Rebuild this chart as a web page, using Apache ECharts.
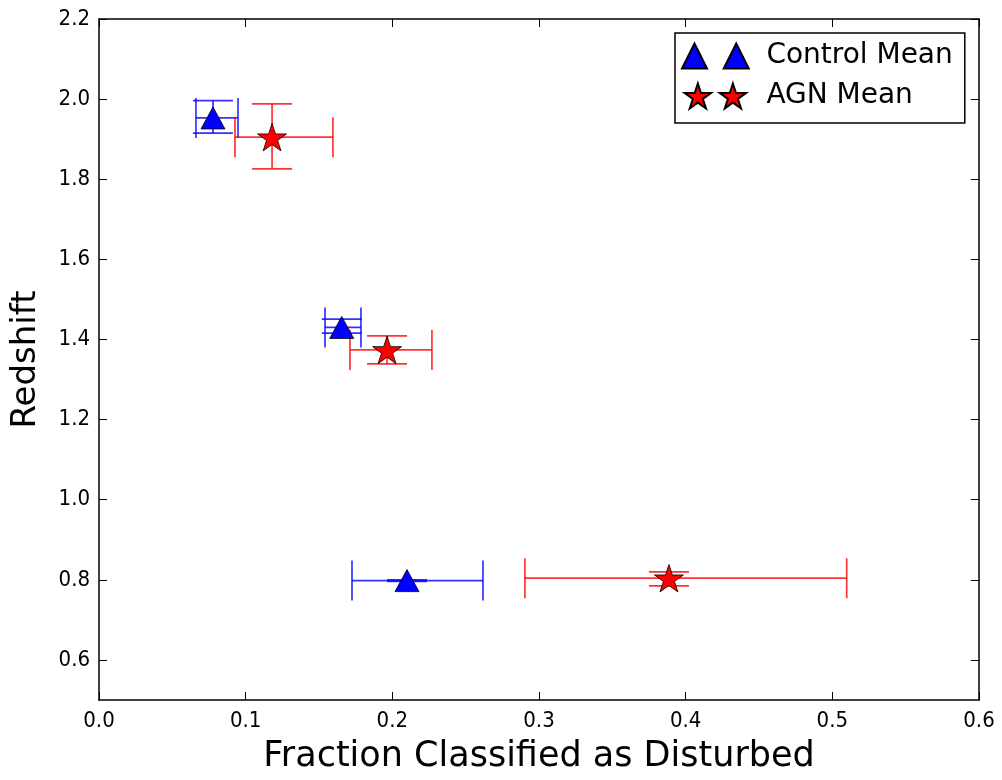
<!DOCTYPE html>
<html>
<head>
<meta charset="utf-8">
<script src="https://cdn.jsdelivr.net/npm/echarts@6/dist/echarts.min.js"></script>
<style>
html,body{margin:0;padding:0;background:#fff;}
#chart{width:1002px;height:780px;}
</style>
</head>
<body>
<div id="chart"></div>
<script>
// ---- data ----
const controlX   = [0.0777, 0.1655, 0.2100];
const controlY   = [1.953, 1.430, 0.798];
const controlXLo = [0.0661, 0.1541, 0.1725];
const controlXHi = [0.0948, 0.1786, 0.2618];
const controlYLo = [1.915, 1.416, 0.796];
const controlYHi = [1.996, 1.451, 0.800];

const agnX   = [0.1180, 0.1964, 0.3886];
const agnY   = [1.905, 1.374, 0.804];
const agnXLo = [0.0927, 0.1711, 0.2904];
const agnXHi = [0.1595, 0.2270, 0.5098];
const agnYLo = [1.826, 1.339, 0.785];
const agnYHi = [1.988, 1.409, 0.820];

const xTicks = [0.0, 0.1, 0.2, 0.3, 0.4, 0.5, 0.6];
const yTicks = [0.6, 0.8, 1.0, 1.2, 1.4, 1.6, 1.8, 2.0, 2.2];

const seriesNames = ['Control Mean', 'AGN Mean'];
const xTitle = 'Fraction Classified as Disturbed';
const yTitle = 'Redshift';

// ---- build ----
const TICKFONT = '"DejaVu Sans Condensed", "DejaVu Sans", sans-serif';
const FONT = '"DejaVu Sans", sans-serif';
const STAR = 'path://M50,0 L61.23,34.55 L97.55,34.55 L68.17,55.9 L79.39,90.45 L50,69.1 L20.61,90.45 L31.83,55.9 L2.45,34.55 L38.77,34.55 Z';
const STAR2 = 'path://M50,0 L61.23,34.55 L97.55,34.55 L68.17,55.9 L79.39,90.45 L50,69.1 L20.61,90.45 L31.83,55.9 L2.45,34.55 L38.77,34.55 Z ' +
  'M176.8,0 L188.03,34.55 L224.35,34.55 L194.97,55.9 L206.19,90.45 L176.8,69.1 L147.41,90.45 L158.63,55.9 L129.25,34.55 L165.57,34.55 Z';
const TRI2 = 'path://M0,100 L50,0 L100,100 Z M167,100 L217,0 L267,100 Z';

function zipPts(xs, ys) { return xs.map((x, i) => [x, ys[i]]); }
function zipErr(xs, ys, xl, xh, yl, yh) { return xs.map((x, i) => [x, ys[i], xl[i], xh[i], yl[i], yh[i]]); }

function errRender(color) {
  return function (params, api) {
    const x = api.value(0), y = api.value(1);
    const c = api.coord([x, y]);
    const l = api.coord([api.value(2), y]);
    const r = api.coord([api.value(3), y]);
    const b = api.coord([x, api.value(4)]);
    const t = api.coord([x, api.value(5)]);
    const cap = 20;
    const st = { stroke: color, lineWidth: 1.7, opacity: 0.8 };
    const line = (x1, y1, x2, y2) => ({ type: 'line', shape: { x1, y1, x2, y2 }, style: st });
    return {
      type: 'group',
      children: [
        line(l[0], c[1], r[0], c[1]),
        line(l[0], c[1] - cap, l[0], c[1] + cap),
        line(r[0], c[1] - cap, r[0], c[1] + cap),
        line(c[0], b[1], c[0], t[1]),
        line(c[0] - cap, b[1], c[0] + cap, b[1]),
        line(c[0] - cap, t[1], c[0] + cap, t[1])
      ]
    };
  };
}

const axisCommon = {
  type: 'value',
  axisLine: { show: true, onZero: false, lineStyle: { color: '#000', width: 1.5 } },
  axisTick: { show: true, inside: true, length: 8, lineStyle: { color: '#000', width: 1 } },
  splitLine: { show: false }
};

const option = {
  animation: false,
  backgroundColor: '#fff',
  textStyle: { fontFamily: FONT },
  grid: { left: 99, right: 23, top: 19, bottom: 80, containLabel: false, outerBoundsMode: 'none' },
  xAxis: [
    Object.assign({}, axisCommon, {
      position: 'bottom', min: 0, max: 0.6, interval: 0.1,
      name: xTitle, nameLocation: 'middle', nameGap: 39,
      nameTextStyle: { fontSize: 35, color: '#000', fontFamily: FONT },
      axisLabel: { show: true, margin: 10, fontSize: 22, color: '#000', fontFamily: TICKFONT,
        customValues: xTicks, formatter: v => v.toFixed(1) },
      axisTick: Object.assign({}, axisCommon.axisTick, { customValues: xTicks })
    }),
    Object.assign({}, axisCommon, {
      position: 'top', min: 0, max: 0.6, interval: 0.1,
      axisLabel: { show: false },
      axisTick: Object.assign({}, axisCommon.axisTick, { customValues: xTicks })
    })
  ],
  yAxis: [
    Object.assign({}, axisCommon, {
      position: 'left', min: 0.5, max: 2.2,
      name: yTitle, nameLocation: 'middle', nameGap: 56, nameRotate: 90,
      nameTextStyle: { fontSize: 34, color: '#000', fontFamily: FONT },
      axisLabel: { show: true, margin: 9, fontSize: 22, color: '#000', fontFamily: TICKFONT,
        customValues: yTicks, formatter: v => v.toFixed(1) },
      axisTick: Object.assign({}, axisCommon.axisTick, { customValues: yTicks })
    }),
    Object.assign({}, axisCommon, {
      position: 'right', min: 0.5, max: 2.2,
      axisLabel: { show: false },
      axisTick: Object.assign({}, axisCommon.axisTick, { customValues: yTicks })
    })
  ],
  legend: {
    orient: 'vertical',
    left: 675, top: 33,
    padding: [9, 12, 13, 6],
    itemGap: 12,
    itemWidth: 70, itemHeight: 25,
    borderColor: '#000', borderWidth: 1.5, borderRadius: 0,
    backgroundColor: '#fff',
    textStyle: { fontSize: 28, color: '#000', fontFamily: FONT, lineHeight: 28, padding: [0, 0, 0, 11] },
    data: [
      { name: seriesNames[0], icon: TRI2 },
      { name: seriesNames[1], icon: STAR2 }
    ]
  },
  series: [
    {
      name: seriesNames[0] + ' err', type: 'custom', z: 2,
      renderItem: errRender('#0000ff'),
      data: zipErr(controlX, controlY, controlXLo, controlXHi, controlYLo, controlYHi),
      silent: true
    },
    {
      name: seriesNames[1] + ' err', type: 'custom', z: 2,
      renderItem: errRender('#ff0000'),
      data: zipErr(agnX, agnY, agnXLo, agnXHi, agnYLo, agnYHi),
      silent: true
    },
    {
      name: seriesNames[0], type: 'scatter', z: 5,
      symbol: 'triangle', symbolSize: [24, 22],
      itemStyle: { color: '#0000ff', borderColor: '#000', borderWidth: 0.8, opacity: 1 },
      data: zipPts(controlX, controlY)
    },
    {
      name: seriesNames[1], type: 'scatter', z: 5,
      symbol: STAR, symbolSize: [29, 27.5], symbolKeepAspect: false,
      itemStyle: { color: '#ff0000', borderColor: '#000', borderWidth: 0.8, opacity: 1 },
      data: zipPts(agnX, agnY)
    }
  ]
};

const chart = echarts.init(document.getElementById('chart'), null, { renderer: 'canvas' });
chart.setOption(option);
</script>
</body>
</html>
